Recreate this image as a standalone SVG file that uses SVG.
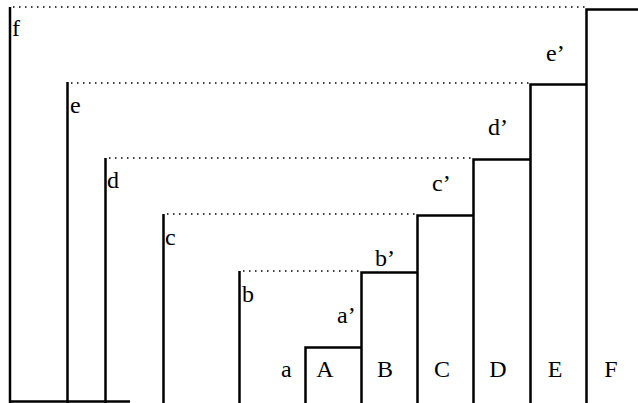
<svg xmlns="http://www.w3.org/2000/svg" width="638" height="403" viewBox="0 0 638 403">
<style>
.s{stroke:#000;stroke-width:2.5;fill:none}
.d{stroke:#000;stroke-width:1.5;stroke-dasharray:1.5 4.5;fill:none}
text{font-family:"Liberation Serif","Times New Roman",serif;font-size:24px;fill:#000}
.m{text-anchor:middle}
</style>
<rect width="638" height="403" fill="#fff"/>
<g id="left-f"><line class="s" x1="10" y1="7" x2="10" y2="403"/><line class="d" x1="13" y1="7" x2="586" y2="7"/><text x="12" y="36">f</text></g>
<g id="left-e"><line class="s" x1="67.5" y1="82" x2="67.5" y2="403"/><line class="d" x1="71" y1="83" x2="530" y2="83"/><text x="70" y="113">e</text></g>
<g id="left-d"><line class="s" x1="105.5" y1="158" x2="105.5" y2="403"/><line class="d" x1="109" y1="158" x2="473" y2="158"/><text x="107" y="188">d</text></g>
<g id="left-c"><line class="s" x1="163.5" y1="214" x2="163.5" y2="403"/><line class="d" x1="167" y1="214" x2="417" y2="214"/><text x="165" y="245">c</text></g>
<g id="left-b"><line class="s" x1="239.5" y1="271" x2="239.5" y2="403"/><line class="d" x1="243" y1="271" x2="361" y2="271"/><text x="242" y="302">b</text></g>
<g id="bottom"><line class="s" x1="9" y1="401.5" x2="130" y2="401.5"/></g>
<g id="box-A"><path class="s" d="M305.5 403V347.5H361.5"/><text class="m" x="325" y="377">A</text><text x="281" y="377">a</text></g>
<g id="box-B"><path class="s" d="M361.5 403V272.5H417.5"/><text class="m" x="385" y="377">B</text><text x="337" y="323">a’</text></g>
<g id="box-C"><path class="s" d="M417.5 403V215.5H473.5"/><text class="m" x="442" y="377">C</text><text x="375" y="266">b’</text></g>
<g id="box-D"><path class="s" d="M473.5 403V159.5H530.5"/><text class="m" x="498" y="377">D</text><text x="432" y="191">c’</text></g>
<g id="box-E"><path class="s" d="M530.5 403V84.5H586.5"/><text class="m" x="555" y="377">E</text><text x="488" y="135">d’</text></g>
<g id="box-F"><path class="s" d="M586.5 403V9.5H638"/><text class="m" x="611" y="377">F</text><text x="546" y="61">e’</text></g>
</svg>
